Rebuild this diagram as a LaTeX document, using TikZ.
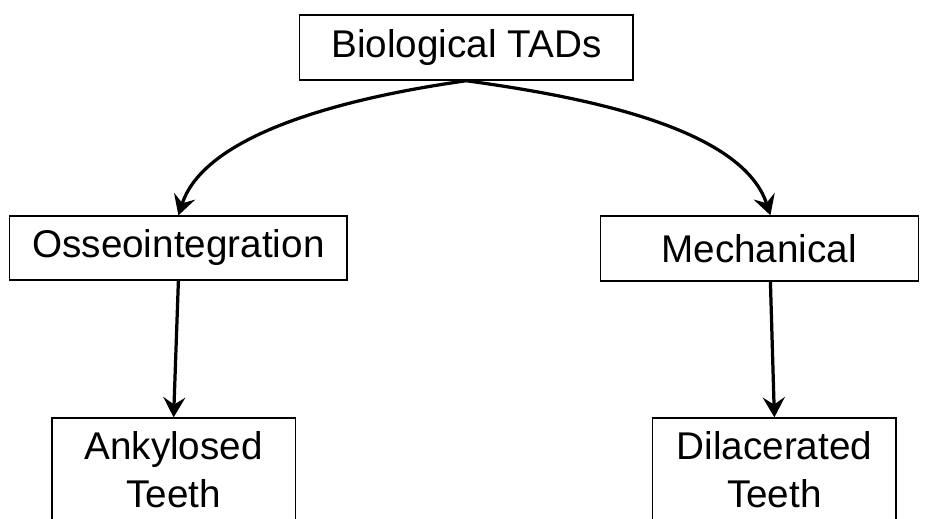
\documentclass[tikz,border=0pt]{standalone}
\usepackage{fontspec}
\setmainfont{Liberation Sans}
\usetikzlibrary{arrows.meta}
\begin{document}
\begin{tikzpicture}[>={Stealth[length=0.5cm, width=0.55cm, inset=0.18cm]},
  box/.style={draw, line width=0.9pt, inner sep=0pt, align=center, font=\fontsize{27.5}{34}\selectfont},
  link/.style={->, line width=2.3pt}]
\clip (0,0) rectangle (23.2,12.95);
\node[box, minimum width=8.33cm, minimum height=1.625cm] (bio) at (11.66,11.76) {Biological TADs};
\node[box, minimum width=8.43cm, minimum height=1.6cm] (osseo) at (4.46,6.75) {Osseointegration};
\node[box, minimum width=7.95cm, minimum height=1.625cm] (mech) at (18.98,6.74) {Mechanical};
\node[box, minimum width=6.08cm, minimum height=2.6cm] (ankyl) at (4.34,1.2) {Ankylosed\\Teeth};
\node[box, minimum width=6.08cm, minimum height=2.6cm] (dilac) at (19.36,1.2) {Dilacerated\\Teeth};

\draw[link] (bio.south) to[out=188, in=72, looseness=0.75] (osseo.north);
\draw[link] (bio.south) to[out=-8, in=108, looseness=0.75] ([xshift=0.28cm]mech.north);
\draw[link] (osseo.south) -- (ankyl.north);
\draw[link] ([xshift=0.28cm]mech.south) -- (dilac.north);
\end{tikzpicture}
\end{document}
